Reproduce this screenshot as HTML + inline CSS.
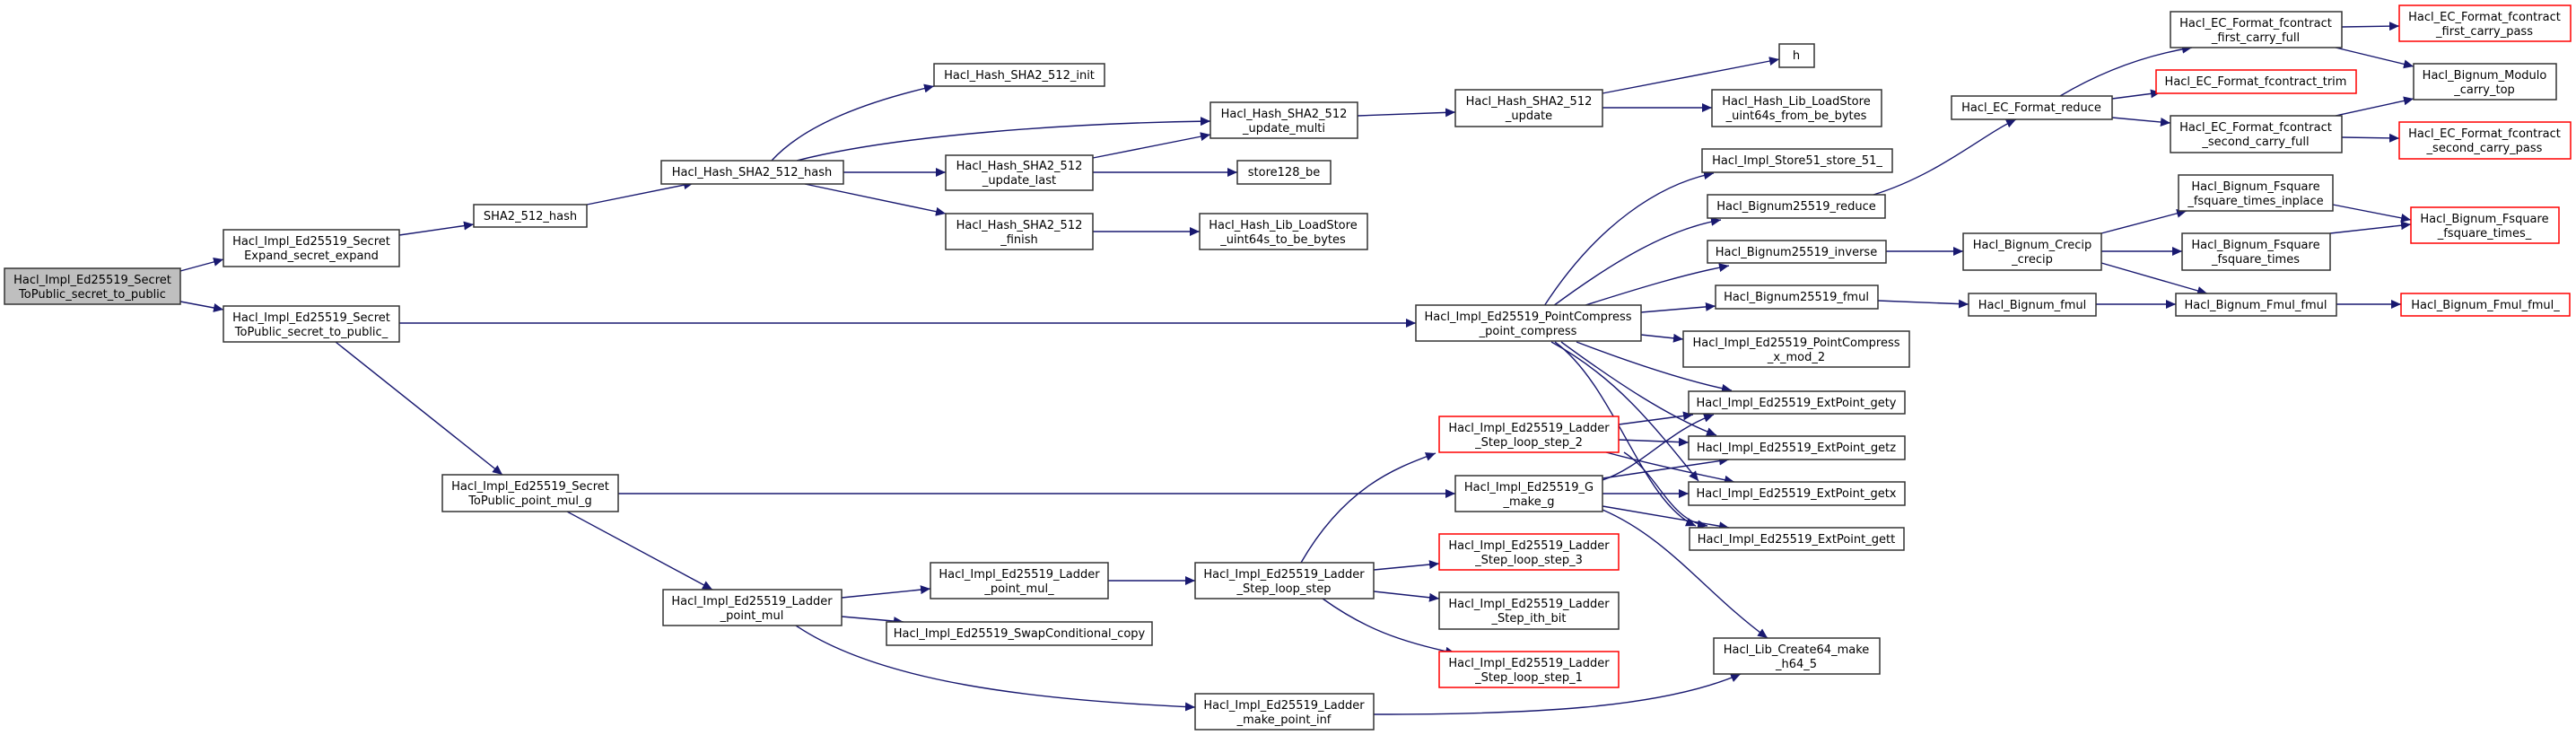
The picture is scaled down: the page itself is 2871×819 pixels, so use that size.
<!DOCTYPE html>
<html><head><meta charset="utf-8"><style>
html,body{margin:0;padding:0;background:#fff;}
svg{display:block;}
text{font-family:"DejaVu Sans","Liberation Sans",sans-serif;font-size:13px;fill:#000;}
.e{fill:none;stroke:#191970;stroke-width:1.4;}
.b{fill:#fff;stroke:#333;stroke-width:1.5;}
.r{fill:#fff;stroke:#ff0000;stroke-width:1.5;}
.g{fill:#bfbfbf;stroke:#333;stroke-width:1.5;}
</style></head><body>
<svg width="2871" height="819" viewBox="0 0 2871 819" xmlns="http://www.w3.org/2000/svg">
<defs><marker id="a" markerWidth="12" markerHeight="10" refX="11" refY="5" orient="auto" markerUnits="userSpaceOnUse"><path d="M0,0 L11,5 L0,10 z" fill="#191970"/></marker></defs>
<g marker-end="url(#a)">
<path class="e" d="M201,302 L249,289"/>
<path class="e" d="M201,336 L249,345"/>
<path class="e" d="M445,262 L528,250"/>
<path class="e" d="M654,228 L773,204"/>
<path class="e" d="M860,179 C900,135 980,110 1041,96"/>
<path class="e" d="M888,179 C1000,150 1200,137 1349,135"/>
<path class="e" d="M940,192 L1054,192"/>
<path class="e" d="M897,205 L1054,238"/>
<path class="e" d="M1218,176 L1349,150"/>
<path class="e" d="M1218,192 L1379,192"/>
<path class="e" d="M1218,258 L1337,258"/>
<path class="e" d="M1513,129 L1622,125"/>
<path class="e" d="M1786,104 L1983,66"/>
<path class="e" d="M1786,120 L1908,120"/>
<path class="e" d="M445,360 L1578,360"/>
<path class="e" d="M374,381 L560,529"/>
<path class="e" d="M689,550 L1622,550"/>
<path class="e" d="M632,570 L794,657"/>
<path class="e" d="M938,666 L1037,656"/>
<path class="e" d="M938,687 L1007,693"/>
<path class="e" d="M887,697 C980,760 1150,780 1332,788"/>
<path class="e" d="M1235,647 L1332,647"/>
<path class="e" d="M1450,627 C1500,540 1560,520 1600,505"/>
<path class="e" d="M1531,635 L1604,628"/>
<path class="e" d="M1531,659 L1604,667"/>
<path class="e" d="M1474,667 C1520,700 1560,715 1622,728"/>
<path class="e" d="M1531,796 C1700,796 1850,790 1940,751"/>
<path class="e" d="M1721,341 C1780,250 1850,205 1910,193"/>
<path class="e" d="M1731,341 C1800,290 1860,255 1918,245"/>
<path class="e" d="M1764,341 C1830,320 1880,305 1927,296"/>
<path class="e" d="M1829,348 L1912,341"/>
<path class="e" d="M1829,373 L1876,378"/>
<path class="e" d="M1757,381 C1820,405 1880,425 1930,435"/>
<path class="e" d="M1740,381 C1800,425 1860,465 1913,485"/>
<path class="e" d="M1729,381 C1800,420 1840,470 1893,536"/>
<path class="e" d="M1733,381 C1800,430 1830,560 1890,586"/>
<path class="e" d="M1804,473 L1887,462"/>
<path class="e" d="M1804,490 L1882,493"/>
<path class="e" d="M1790,504 C1850,520 1900,530 1933,537"/>
<path class="e" d="M1810,504 C1850,530 1860,580 1903,586"/>
<path class="e" d="M1786,535 C1830,520 1860,480 1910,462"/>
<path class="e" d="M1786,533 L1927,512"/>
<path class="e" d="M1786,550 L1882,550"/>
<path class="e" d="M1786,564 L1927,588"/>
<path class="e" d="M1786,568 C1860,600 1900,660 1970,711"/>
<path class="e" d="M2088,217 C2160,195 2210,150 2247,133"/>
<path class="e" d="M2102,280 L2188,280"/>
<path class="e" d="M2093,335 L2194,339"/>
<path class="e" d="M2336,339 L2425,339"/>
<path class="e" d="M2604,339 L2676,339"/>
<path class="e" d="M2342,260 L2437,235"/>
<path class="e" d="M2342,280 L2432,280"/>
<path class="e" d="M2342,293 L2460,327"/>
<path class="e" d="M2600,228 L2687,245"/>
<path class="e" d="M2597,260 L2687,250"/>
<path class="e" d="M2296,107 C2350,75 2400,60 2443,53"/>
<path class="e" d="M2354,110 L2408,103"/>
<path class="e" d="M2354,131 L2419,137"/>
<path class="e" d="M2610,30 L2674,29"/>
<path class="e" d="M2603,53 L2690,74"/>
<path class="e" d="M2603,129 L2690,110"/>
<path class="e" d="M2610,153 L2674,154"/>
</g>
<g text-anchor="middle">
<rect class="g" x="5" y="299" width="196" height="40"/><text x="103" y="316">Hacl_Impl_Ed25519_Secret</text><text x="103" y="332">ToPublic_secret_to_public</text>
<rect class="b" x="249" y="256" width="196" height="41"/><text x="347" y="273">Hacl_Impl_Ed25519_Secret</text><text x="347" y="289">Expand_secret_expand</text>
<rect class="b" x="249" y="341" width="196" height="40"/><text x="347" y="358">Hacl_Impl_Ed25519_Secret</text><text x="347" y="374">ToPublic_secret_to_public_</text>
<rect class="b" x="528" y="228" width="126" height="25"/><text x="591" y="245">SHA2_512_hash</text>
<rect class="b" x="737" y="179" width="203" height="26"/><text x="838" y="196">Hacl_Hash_SHA2_512_hash</text>
<rect class="b" x="493" y="529" width="196" height="41"/><text x="591" y="546">Hacl_Impl_Ed25519_Secret</text><text x="591" y="562">ToPublic_point_mul_g</text>
<rect class="b" x="739" y="657" width="199" height="40"/><text x="838" y="674">Hacl_Impl_Ed25519_Ladder</text><text x="838" y="690">_point_mul</text>
<rect class="b" x="1041" y="71" width="190" height="25"/><text x="1136" y="88">Hacl_Hash_SHA2_512_init</text>
<rect class="b" x="1349" y="114" width="164" height="40"/><text x="1431" y="131">Hacl_Hash_SHA2_512</text><text x="1431" y="147">_update_multi</text>
<rect class="b" x="1622" y="100" width="164" height="41"/><text x="1704" y="117">Hacl_Hash_SHA2_512</text><text x="1704" y="133">_update</text>
<rect class="b" x="1054" y="173" width="164" height="39"/><text x="1136" y="189">Hacl_Hash_SHA2_512</text><text x="1136" y="205">_update_last</text>
<rect class="b" x="1379" y="179" width="104" height="26"/><text x="1431" y="196">store128_be</text>
<rect class="b" x="1054" y="238" width="164" height="40"/><text x="1136" y="255">Hacl_Hash_SHA2_512</text><text x="1136" y="271">_finish</text>
<rect class="b" x="1337" y="238" width="187" height="40"/><text x="1430" y="255">Hacl_Hash_Lib_LoadStore</text><text x="1430" y="271">_uint64s_to_be_bytes</text>
<rect class="b" x="1578" y="340" width="251" height="40"/><text x="1703" y="357">Hacl_Impl_Ed25519_PointCompress</text><text x="1703" y="373">_point_compress</text>
<rect class="b" x="1983" y="49" width="39" height="26"/><text x="2002" y="66">h</text>
<rect class="b" x="1908" y="100" width="189" height="41"/><text x="2002" y="117">Hacl_Hash_Lib_LoadStore</text><text x="2002" y="133">_uint64s_from_be_bytes</text>
<rect class="b" x="1897" y="166" width="212" height="26"/><text x="2003" y="183">Hacl_Impl_Store51_store_51_</text>
<rect class="b" x="1903" y="217" width="198" height="26"/><text x="2002" y="234">Hacl_Bignum25519_reduce</text>
<rect class="b" x="1903" y="268" width="199" height="25"/><text x="2002" y="285">Hacl_Bignum25519_inverse</text>
<rect class="b" x="1912" y="318" width="181" height="26"/><text x="2002" y="335">Hacl_Bignum25519_fmul</text>
<rect class="b" x="1876" y="369" width="252" height="40"/><text x="2002" y="386">Hacl_Impl_Ed25519_PointCompress</text><text x="2002" y="402">_x_mod_2</text>
<rect class="b" x="2175" y="107" width="179" height="26"/><text x="2264" y="124">Hacl_EC_Format_reduce</text>
<rect class="b" x="2419" y="13" width="191" height="40"/><text x="2514" y="30">Hacl_EC_Format_fcontract</text><text x="2514" y="46">_first_carry_full</text>
<rect class="r" x="2403" y="78" width="223" height="26"/><text x="2514" y="95">Hacl_EC_Format_fcontract_trim</text>
<rect class="b" x="2419" y="129" width="191" height="41"/><text x="2514" y="146">Hacl_EC_Format_fcontract</text><text x="2514" y="162">_second_carry_full</text>
<rect class="r" x="2674" y="6" width="191" height="40"/><text x="2769" y="23">Hacl_EC_Format_fcontract</text><text x="2769" y="39">_first_carry_pass</text>
<rect class="b" x="2690" y="71" width="159" height="40"/><text x="2769" y="88">Hacl_Bignum_Modulo</text><text x="2769" y="104">_carry_top</text>
<rect class="r" x="2674" y="136" width="191" height="41"/><text x="2769" y="153">Hacl_EC_Format_fcontract</text><text x="2769" y="169">_second_carry_pass</text>
<rect class="b" x="2188" y="260" width="154" height="41"/><text x="2265" y="277">Hacl_Bignum_Crecip</text><text x="2265" y="293">_crecip</text>
<rect class="b" x="2428" y="195" width="172" height="40"/><text x="2514" y="212">Hacl_Bignum_Fsquare</text><text x="2514" y="228">_fsquare_times_inplace</text>
<rect class="b" x="2432" y="260" width="165" height="41"/><text x="2514" y="277">Hacl_Bignum_Fsquare</text><text x="2514" y="293">_fsquare_times</text>
<rect class="r" x="2687" y="231" width="165" height="40"/><text x="2769" y="248">Hacl_Bignum_Fsquare</text><text x="2769" y="264">_fsquare_times_</text>
<rect class="b" x="2194" y="327" width="142" height="25"/><text x="2265" y="344">Hacl_Bignum_fmul</text>
<rect class="b" x="2425" y="327" width="179" height="25"/><text x="2514" y="344">Hacl_Bignum_Fmul_fmul</text>
<rect class="r" x="2676" y="327" width="188" height="25"/><text x="2770" y="344">Hacl_Bignum_Fmul_fmul_</text>
<rect class="b" x="1037" y="627" width="198" height="40"/><text x="1136" y="644">Hacl_Impl_Ed25519_Ladder</text><text x="1136" y="660">_point_mul_</text>
<rect class="b" x="988" y="693" width="296" height="26"/><text x="1136" y="710">Hacl_Impl_Ed25519_SwapConditional_copy</text>
<rect class="b" x="1332" y="627" width="199" height="40"/><text x="1431" y="644">Hacl_Impl_Ed25519_Ladder</text><text x="1431" y="660">_Step_loop_step</text>
<rect class="b" x="1332" y="773" width="199" height="40"/><text x="1431" y="790">Hacl_Impl_Ed25519_Ladder</text><text x="1431" y="806">_make_point_inf</text>
<rect class="r" x="1604" y="464" width="200" height="40"/><text x="1704" y="481">Hacl_Impl_Ed25519_Ladder</text><text x="1704" y="497">_Step_loop_step_2</text>
<rect class="b" x="1622" y="530" width="164" height="40"/><text x="1704" y="547">Hacl_Impl_Ed25519_G</text><text x="1704" y="563">_make_g</text>
<rect class="r" x="1604" y="595" width="200" height="40"/><text x="1704" y="612">Hacl_Impl_Ed25519_Ladder</text><text x="1704" y="628">_Step_loop_step_3</text>
<rect class="b" x="1604" y="660" width="200" height="41"/><text x="1704" y="677">Hacl_Impl_Ed25519_Ladder</text><text x="1704" y="693">_Step_ith_bit</text>
<rect class="r" x="1604" y="726" width="200" height="40"/><text x="1704" y="743">Hacl_Impl_Ed25519_Ladder</text><text x="1704" y="759">_Step_loop_step_1</text>
<rect class="b" x="1882" y="436" width="241" height="25"/><text x="2002" y="453">Hacl_Impl_Ed25519_ExtPoint_gety</text>
<rect class="b" x="1882" y="486" width="241" height="26"/><text x="2002" y="503">Hacl_Impl_Ed25519_ExtPoint_getz</text>
<rect class="b" x="1882" y="537" width="241" height="26"/><text x="2002" y="554">Hacl_Impl_Ed25519_ExtPoint_getx</text>
<rect class="b" x="1883" y="588" width="239" height="25"/><text x="2002" y="605">Hacl_Impl_Ed25519_ExtPoint_gett</text>
<rect class="b" x="1910" y="711" width="185" height="40"/><text x="2002" y="728">Hacl_Lib_Create64_make</text><text x="2002" y="744">_h64_5</text>
</g>
</svg>
</body></html>
